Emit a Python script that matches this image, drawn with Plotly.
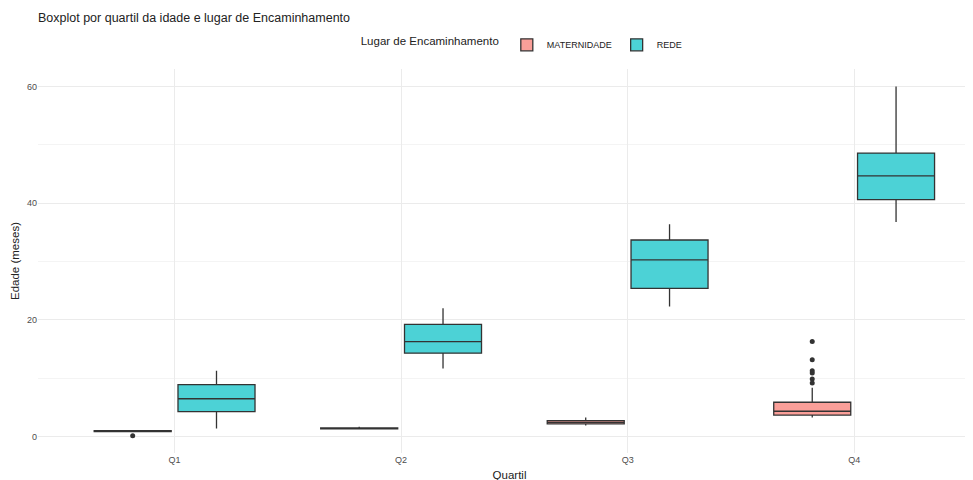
import plotly.graph_objects as go

quartis = ["Q1", "Q2", "Q3", "Q4"]

# MATERNIDADE stats per quartile
mat_low = [0.75, 1.30, 1.90, 3.30]
mat_q1 = [0.85, 1.35, 2.20, 3.70]
mat_med = [0.95, 1.42, 2.45, 4.35]
mat_q3 = [1.05, 1.50, 2.75, 5.90]
mat_up = [1.10, 1.70, 3.30, 8.40]
mat_out_q = ["Q1", "Q4", "Q4", "Q4", "Q4", "Q4", "Q4"]
mat_out_v = [0.17, 16.3, 13.2, 11.3, 10.9, 9.9, 9.2]

# REDE stats per quartile
rede_low = [1.4, 11.7, 22.3, 36.8]
rede_q1 = [4.3, 14.3, 25.4, 40.6]
rede_med = [6.5, 16.3, 30.3, 44.7]
rede_q3 = [8.9, 19.25, 33.7, 48.6]
rede_up = [11.3, 22.0, 36.4, 60.0]

DODGE = 0.185
BOXW = 0.34
idx = {q: i for i, q in enumerate(quartis)}

fig = go.Figure()
series = [
    ("MATERNIDADE", mat_low, mat_q1, mat_med, mat_q3, mat_up, "rgba(248,118,109,0.7)", -DODGE),
    ("REDE", rede_low, rede_q1, rede_med, rede_q3, rede_up, "rgba(0,191,196,0.7)", DODGE),
]
for name, lo, q1, md, q3, up, col, off in series:
    fig.add_trace(go.Box(
        name=name,
        x=[i + off for i in range(len(quartis))],
        lowerfence=lo, q1=q1, median=md, q3=q3, upperfence=up,
        width=BOXW, fillcolor=col,
        line=dict(color="#333333", width=1.3),
        whiskerwidth=0, boxpoints=False, hoverinfo="skip",
        legendgroup=name,
    ))

fig.add_trace(go.Scatter(
    x=[idx[q] - DODGE for q in mat_out_q], y=mat_out_v, mode="markers",
    marker=dict(color="#333333", size=5), showlegend=False, hoverinfo="skip",
))

fig.update_layout(
    width=973, height=480,
    margin=dict(l=30, r=0, t=61, b=35, autoexpand=False),
    paper_bgcolor="white", plot_bgcolor="white",
    font=dict(family="Liberation Sans, Arial, sans-serif", color="#222222"),
    title=dict(text="Boxplot por quartil da idade e lugar de Encaminhamento",
               x=30 / 973, xref="container", xanchor="left", y=0.979, yanchor="middle",
               yref="container", font=dict(size=12.5, color="#222222")),
    legend=dict(orientation="h", xref="container", x=0.529, xanchor="center",
                y=1.063, yanchor="middle",
                title=dict(text="Lugar de Encaminhamento", font=dict(size=11.5)),
                font=dict(size=9), bgcolor="rgba(0,0,0,0)"),
    showlegend=True,
)
fig.update_xaxes(
    range=[-0.603, 3.56], tickvals=list(range(len(quartis))), ticktext=quartis,
    showgrid=True, gridcolor="#EBEBEB", gridwidth=1, zeroline=False, automargin=False,
    showline=False, ticks="", tickfont=dict(size=9, color="#4D4D4D"),
    title=dict(text="Quartil", font=dict(size=11.5, color="#222222"), standoff=6),
)
fig.update_yaxes(
    range=[-2.8, 63], tickvals=[0, 20, 40, 60],
    showgrid=True, gridcolor="#EBEBEB", gridwidth=1, zeroline=False, automargin=False,
    minor=dict(tickvals=[10, 30, 50], showgrid=True, gridcolor="#F4F4F4", gridwidth=1),
    showline=False, ticks="", tickfont=dict(size=9, color="#4D4D4D"),
    title=dict(text="Edade (meses)", font=dict(size=11.5, color="#222222"), standoff=4),
)

fig.write_html("out.html")
